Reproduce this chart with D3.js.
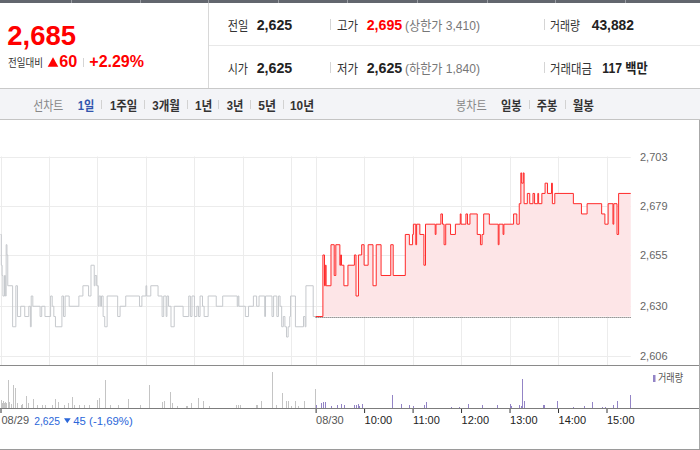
<!DOCTYPE html>
<html><head><meta charset="utf-8">
<script src="https://cdn.jsdelivr.net/npm/d3@7/dist/d3.min.js"></script>
<style>
html,body{margin:0;padding:0;background:#fff;}
svg{display:block;font-family:"Liberation Sans","Noto Sans CJK KR",sans-serif;}
</style></head><body>
<svg id="c" width="700" height="450"></svg>
<script>
// ---------- data ----------
const priceTicks = [2606, 2630, 2655, 2679, 2703];
const prevClose = 2625;
// 08/29 session (minutes after 09:00, price)
const day1Minutes = [0,1,2,3,5,6,7,8,9,15,19,21,25,30,35,37,38,40,49,51,55,62,64,66,68,76,78,80,85,97,102,109,112,116,117,119,121,122,124,125,127,129,132,145,148,155,172,175,180,181,186,195,200,202,205,206,208,211,215,226,233,235,237,240,243,245,247,250,252,257,267,275,293,294,295,303,307,313,317,320,327,328,336,338,342,344,346,348,350,352,354,356,358,359,365,375,377,378,387,390];
const day1Prices = [2665,2650,2645,2635,2645,2635,2660,2655,2640,2620,2640,2625,2630,2625,2630,2620,2635,2630,2625,2630,2625,2635,2630,2625,2620,2635,2625,2635,2630,2635,2640,2635,2650,2640,2645,2640,2630,2635,2630,2635,2625,2620,2635,2625,2630,2635,2630,2635,2640,2635,2640,2635,2625,2635,2625,2635,2630,2620,2630,2625,2635,2625,2635,2625,2630,2625,2635,2630,2625,2635,2630,2635,2630,2635,2630,2625,2630,2635,2630,2635,2625,2635,2625,2635,2625,2635,2630,2620,2625,2620,2615,2620,2625,2635,2620,2625,2620,2640,2625,2625];
// 08/30 session
const day2Minutes = [0,9,11,12,13,19,23,25,30,31,32,35,40,48,50,53,57,60,65,71,75,81,93,96,111,116,120,121,124,125,129,134,136,148,149,155,157,159,161,167,173,179,180,186,188,191,200,204,206,208,215,226,227,232,233,245,249,252,254,255,257,258,262,265,269,271,275,276,280,284,287,292,293,296,319,329,336,354,358,362,368,369,373,375,390];
const day2Prices = [2625,2655,2640,2650,2640,2660,2645,2660,2650,2655,2650,2640,2650,2655,2635,2655,2660,2650,2660,2640,2660,2645,2660,2645,2665,2660,2665,2670,2660,2670,2665,2650,2670,2665,2670,2675,2670,2660,2670,2665,2670,2675,2670,2675,2670,2675,2665,2660,2665,2675,2670,2660,2670,2665,2670,2675,2670,2680,2695,2690,2695,2680,2685,2680,2685,2680,2685,2680,2685,2690,2685,2690,2680,2685,2680,2675,2680,2675,2670,2680,2670,2680,2665,2685,2685];
// volumes (minute, shares)
const day1VolMinutes = [0,1,2,3,4,5,6,7,9,11,13,15,18,20,21,25,27,32,34,40,45,51,55,64,67,71,79,84,88,91,97,103,109,119,122,129,136,146,158,173,184,200,202,210,212,218,229,230,231,236,244,250,258,292,294,296,316,317,323,336,341,349,353,356,360,364,368,376,389];
const day1Volumes   = [1600,1200,1000,1400,1000,1200,800,1000,5600,1200,800,4600,4000,1000,800,600,800,2400,1000,1800,600,600,600,600,1800,1200,600,1000,2200,600,600,600,600,1600,2000,5600,600,600,1800,600,4600,1200,1400,3200,1000,400,400,400,400,1000,2000,1400,400,600,600,600,600,600,1400,7200,600,3000,1400,1400,400,1400,400,1400,3800];
const day2VolMinutes = [0,7,9,12,19,27,31,35,48,50,52,54,57,95,106,115,120,134,137,167,178,189,206,224,240,242,252,254,256,258,281,283,299,319,332,342,354,358,368,373,389];
const day2Volumes   = [600,1000,1200,1200,400,600,800,600,600,600,800,400,800,2600,800,600,400,600,1200,200,200,800,600,600,800,400,600,400,5800,1400,600,600,1400,200,400,1200,200,200,600,1400,2600];
// x axis ticks (session index: day1 0..390, day2 390..780)
const gridIdx = [0,60,120,180,240,300,360,390,450,510,570,630,690,750];
const xTickIdx = [0,390,450,510,570,630,690,750];
const xTickLabels = ["08/29","08/30","10:00","11:00","12:00","13:00","14:00","15:00"];

// ---------- drawing ----------
const svg = d3.select("#c");
const red = "#ff2a2a";

function T(x, y, s, o = {}) {
  const t = svg.append("text").attr("x", x).attr("y", y).text(s)
    .attr("font-size", o.size || 13).attr("fill", o.fill || "#333")
    .attr("font-weight", o.bold ? "bold" : "normal");
  if (o.len) t.attr("textLength", o.len).attr("lengthAdjust", "spacingAndGlyphs");
  if (o.family) t.attr("font-family", o.family);
  return t;
}
function L(x1, y1, x2, y2, c, w = 1) {
  svg.append("line").attr("x1", x1).attr("y1", y1).attr("x2", x2).attr("y2", y2)
    .attr("stroke", c).attr("stroke-width", w);
}

// top strip
svg.append("rect").attr("x", 0).attr("y", 0).attr("width", 700).attr("height", 3).attr("fill", "#62666e");
[71,140,208,278,347,417,487,555,625].forEach(x =>
  svg.append("rect").attr("x", x).attr("y", 0).attr("width", 1).attr("height", 3).attr("fill", "#9a9da3"));

// header lines
L(208.5, 3, 208.5, 88, "#d8d8d8");
L(209, 45.5, 700, 45.5, "#e8e8e8");

// header left
T(7.3, 45, "2,685", {size: 28, bold: true, fill: "#f00", len: 68.7});
T(8, 66.5, "전일대비", {size: 11, fill: "#333", len: 35});
svg.append("polygon").attr("points", "47.7,66.7 58.3,66.7 53,57.3").attr("fill", "#f00");
T(59.3, 67, "60", {size: 16, bold: true, fill: "#f00", len: 18});
L(83.5, 58, 83.5, 67, "#d5d5d5");
T(89.3, 67, "+2.29%", {size: 16, bold: true, fill: "#f00", len: 54.7});

// header right
const r1 = 29.5, r2 = 72.7;
T(227.7, r1, "전일", {len: 20.6});
T(256.7, r1, "2,625", {size: 14, bold: true, fill: "#222", len: 35.6});
L(330.5, 19, 330.5, 30, "#d5d5d5");
T(337, r1, "고가", {len: 21});
T(366.7, r1, "2,695", {size: 14, bold: true, fill: "#f00", len: 35.6});
T(405, r1, "(상한가 3,410)", {fill: "#777", len: 75});
L(544.5, 19, 544.5, 30, "#d5d5d5");
T(550, r1, "거래량", {len: 30});
T(591.7, r1, "43,882", {size: 14, bold: true, fill: "#222", len: 42.3});

T(227.7, r2, "시가", {len: 20.3});
T(256.7, r2, "2,625", {size: 14, bold: true, fill: "#222", len: 35.6});
L(330.5, 62, 330.5, 73, "#d5d5d5");
T(337, r2, "저가", {len: 21});
T(366.7, r2, "2,625", {size: 14, bold: true, fill: "#222", len: 35.6});
T(405, r2, "(하한가 1,840)", {fill: "#777", len: 75});
L(544.5, 62, 544.5, 73, "#d5d5d5");
T(550, r2, "거래대금", {len: 42});
T(602.3, r2, "117 백만", {size: 14, bold: true, fill: "#222", len: 45.4});

// tab bar
svg.append("rect").attr("x", 0).attr("y", 88).attr("width", 700).attr("height", 31).attr("fill", "#f3f4f7");
L(0, 88.5, 700, 88.5, "#c9c9c9");
L(0, 119.5, 700, 119.5, "#c4c4c4");
const tb = 109.5;
T(33.3, tb, "선차트", {fill: "#888", len: 30});
T(77.7, tb, "1일", {bold: true, fill: "#3154ae", len: 16.6});
[[110,"1주일",27.3],[152.3,"3개월",27.7],[195,"1년",17.3],[226.7,"3년",16.6],[258.3,"5년",17.7],[290,"10년",24]]
  .forEach(d => T(d[0], tb, d[1], {bold: true, fill: "#333", len: d[2]}));
[101.5,144.5,187.5,218.5,250.5,283.5].forEach(x => L(x, 100, x, 109, "#d2d2d2"));
T(456, tb, "봉차트", {fill: "#888", len: 30.7});
[[501,"일봉",20.7],[536.7,"주봉",20.6],[572.7,"월봉",21.3]]
  .forEach(d => T(d[0], tb, d[1], {bold: true, fill: "#333", len: d[2]}));
[529.5,565.5].forEach(x => L(x, 100, x, 109, "#d2d2d2"));

// scales
const x = d3.scaleLinear().domain([0, 750]).range([0.5, 606.5]);
const y = d3.scaleLinear().domain([2606, 2703]).range([355.5, 156.5]);
const yV = d3.scaleLinear().domain([0, 8600]).range([408, 365]);

// grid
const grid = svg.append("g").attr("stroke", "#ececec").attr("stroke-width", 1);
priceTicks.forEach(v => grid.append("line").attr("x1", 0).attr("x2", x(780))
  .attr("y1", Math.round(y(v)) + 0.5).attr("y2", Math.round(y(v)) + 0.5));
gridIdx.forEach(i => grid.append("line").attr("x1", Math.round(x(i)) + 0.5).attr("x2", Math.round(x(i)) + 0.5)
  .attr("y1", y(2703)).attr("y2", 365));

// right axis
const ay = svg.append("g").attr("transform", "translate(640,0)")
  .call(d3.axisRight(y).tickValues(priceTicks).tickFormat(d3.format(",")).tickSize(0).tickPadding(0));
ay.select(".domain").remove();
ay.selectAll("text").attr("font-size", 11).attr("fill", "#666").attr("font-family", "Liberation Sans");

// price series
const d1 = day1Minutes.map((m, k) => ({i: m, p: day1Prices[k]}));
const d2 = day2Minutes.map((m, k) => ({i: 390 + m, p: day2Prices[k]}));

svg.append("path").datum(d2)
  .attr("d", d3.area().curve(d3.curveStepAfter).x(d => x(d.i)).y0(y(prevClose)).y1(d => y(d.p)))
  .attr("fill", "#fde5e7");
svg.append("line").attr("x1", x(390)).attr("x2", x(780))
  .attr("y1", Math.round(y(prevClose)) + 0.5).attr("y2", Math.round(y(prevClose)) + 0.5)
  .attr("stroke", "#555").attr("stroke-width", 1).attr("stroke-dasharray", "1,1");
svg.append("path").datum(d1)
  .attr("d", d3.line().curve(d3.curveStepAfter).x(d => x(d.i)).y(d => y(d.p)))
  .attr("fill", "none").attr("stroke", "#c6c9cd").attr("stroke-width", 1);
svg.append("path").datum(d2)
  .attr("d", d3.line().curve(d3.curveStepAfter).x(d => x(d.i)).y(d => y(d.p)))
  .attr("fill", "none").attr("stroke", red).attr("stroke-width", 1);

// volume panel
L(0, 365.5, 700, 365.5, "#8a8a8a");
const v1 = day1VolMinutes.map((m, k) => ({i: m, v: day1Volumes[k]}));
const v2 = day2VolMinutes.map((m, k) => ({i: 390 + m, v: day2Volumes[k]}));
svg.append("g").selectAll("rect").data(v1).join("rect")
  .attr("x", d => Math.round(x(d.i))).attr("width", 1)
  .attr("y", d => yV(d.v)).attr("height", d => yV(0) - yV(d.v)).attr("fill", "#c4c4c4");
svg.append("g").selectAll("rect").data(v2).join("rect")
  .attr("x", d => Math.round(x(d.i))).attr("width", 1)
  .attr("y", d => yV(d.v)).attr("height", d => yV(0) - yV(d.v)).attr("fill", "#9384c6");
svg.append("rect").attr("x", 653).attr("y", 375).attr("width", 2.5).attr("height", 7).attr("fill", "#9384c6");
T(658, 382, "거래량", {size: 11, fill: "#555", len: 25});

// bottom axis
const ax = svg.append("g").attr("transform", "translate(0,408)")
  .call(d3.axisBottom(x).tickValues(xTickIdx).tickFormat((d, k) => xTickLabels[k]).tickSize(5).tickPadding(3));
ax.select(".domain").remove();
ax.selectAll(".tick line").attr("stroke", "#333");
ax.selectAll("text").attr("text-anchor", "start").attr("font-size", 11)
  .attr("font-family", "Liberation Sans")
  .attr("fill", (d, k) => k < 2 ? "#555" : "#222").attr("dx", (d, k) => k === 0 ? 0.5 : 0);
L(0, 408.5, 700, 408.5, "#7c7c7c");

const blue = "#2a66d9";
T(34.3, 425, "2,625", {size: 11, fill: blue, len: 25.7});
svg.append("polygon").attr("points", "64,418.3 70.7,418.3 67.3,423.3").attr("fill", blue);
T(73.3, 425, "45 (-1,69%)", {size: 11, fill: blue, len: 59.4});

// borders
L(699.5, 120, 699.5, 450, "#a8a8a8");
L(0, 449.5, 700, 449.5, "#9a9a9a");
</script>
</body></html>
